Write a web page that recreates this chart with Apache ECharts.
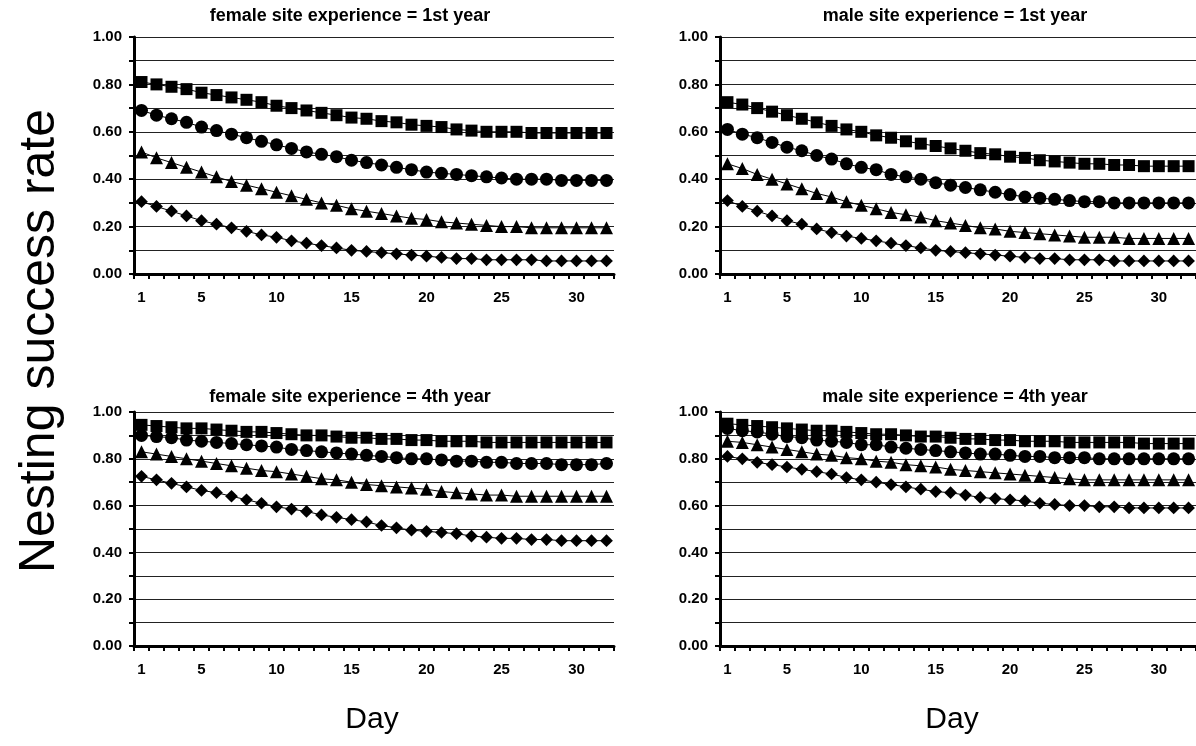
<!DOCTYPE html>
<html>
<head>
<meta charset="utf-8">
<script src="https://cdn.jsdelivr.net/npm/echarts@6/dist/echarts.min.js"></script>
<style>
  html, body { margin: 0; padding: 0; background: #fff; }
  #chart { width: 1196px; height: 746px; }
</style>
</head>
<body>
<div id="chart"></div>
<script>
// days 1..32
var days = [];
for (var d = 1; d <= 32; d++) days.push(String(d));
var shownDays = ["1", "5", "10", "15", "20", "25", "30"];

// panel titles
var titles = [
  "female site experience = 1st year",
  "male site experience = 1st year",
  "female site experience = 4th year",
  "male site experience = 4th year"
];

// female, 1st year
var f1Square = [0.81,0.80,0.79,0.78,0.765,0.755,0.745,0.735,0.725,0.71,0.70,0.69,0.68,0.67,0.66,0.655,0.645,0.64,0.63,0.625,0.62,0.61,0.605,0.60,0.60,0.60,0.595,0.595,0.595,0.595,0.595,0.595];
var f1Circle = [0.69,0.67,0.655,0.64,0.62,0.605,0.59,0.575,0.56,0.545,0.53,0.515,0.505,0.495,0.48,0.47,0.46,0.45,0.44,0.43,0.425,0.42,0.415,0.41,0.405,0.40,0.40,0.40,0.395,0.395,0.395,0.395];
var f1Triangle = [0.515,0.49,0.47,0.45,0.43,0.41,0.39,0.375,0.36,0.345,0.33,0.315,0.30,0.29,0.275,0.265,0.255,0.245,0.235,0.23,0.22,0.215,0.21,0.205,0.20,0.20,0.195,0.195,0.195,0.195,0.195,0.195];
var f1Diamond = [0.305,0.285,0.265,0.245,0.225,0.21,0.195,0.18,0.165,0.155,0.14,0.13,0.12,0.11,0.10,0.095,0.09,0.085,0.08,0.075,0.07,0.065,0.065,0.06,0.06,0.06,0.06,0.055,0.055,0.055,0.055,0.055];

// male, 1st year
var m1Square = [0.725,0.715,0.70,0.685,0.67,0.655,0.64,0.625,0.61,0.60,0.585,0.575,0.56,0.55,0.54,0.53,0.52,0.51,0.505,0.495,0.49,0.48,0.475,0.47,0.465,0.465,0.46,0.46,0.455,0.455,0.455,0.455];
var m1Circle = [0.61,0.59,0.575,0.555,0.535,0.52,0.50,0.485,0.465,0.45,0.44,0.42,0.41,0.40,0.385,0.375,0.365,0.355,0.345,0.335,0.325,0.32,0.315,0.31,0.305,0.305,0.30,0.30,0.30,0.30,0.30,0.30];
var m1Triangle = [0.465,0.445,0.42,0.40,0.38,0.36,0.34,0.325,0.305,0.29,0.275,0.26,0.25,0.24,0.225,0.215,0.205,0.195,0.19,0.18,0.175,0.17,0.165,0.16,0.155,0.155,0.155,0.15,0.15,0.15,0.15,0.15];
var m1Diamond = [0.31,0.285,0.265,0.245,0.225,0.21,0.19,0.175,0.16,0.15,0.14,0.13,0.12,0.11,0.10,0.095,0.09,0.085,0.08,0.075,0.07,0.065,0.065,0.06,0.06,0.06,0.055,0.055,0.055,0.055,0.055,0.055];

// female, 4th year
var f4Square = [0.945,0.94,0.935,0.93,0.93,0.925,0.92,0.915,0.915,0.91,0.905,0.90,0.90,0.895,0.89,0.89,0.885,0.885,0.88,0.88,0.875,0.875,0.875,0.87,0.87,0.87,0.87,0.87,0.87,0.87,0.87,0.87];
var f4Circle = [0.90,0.895,0.89,0.88,0.875,0.87,0.865,0.86,0.855,0.85,0.84,0.835,0.83,0.825,0.82,0.815,0.81,0.805,0.80,0.80,0.795,0.79,0.79,0.785,0.785,0.78,0.78,0.78,0.775,0.775,0.775,0.78];
var f4Triangle = [0.83,0.82,0.81,0.80,0.79,0.78,0.77,0.76,0.75,0.745,0.735,0.725,0.715,0.71,0.70,0.69,0.685,0.68,0.675,0.67,0.66,0.655,0.65,0.645,0.645,0.64,0.64,0.64,0.64,0.64,0.64,0.64];
var f4Diamond = [0.725,0.71,0.695,0.68,0.665,0.655,0.64,0.625,0.61,0.595,0.585,0.575,0.56,0.55,0.54,0.53,0.515,0.505,0.495,0.49,0.485,0.48,0.47,0.465,0.46,0.46,0.455,0.455,0.45,0.45,0.45,0.45];

// male, 4th year
var m4Square = [0.95,0.945,0.94,0.935,0.93,0.925,0.92,0.92,0.915,0.91,0.905,0.905,0.90,0.895,0.895,0.89,0.885,0.885,0.88,0.88,0.875,0.875,0.875,0.87,0.87,0.87,0.87,0.87,0.865,0.865,0.865,0.865];
var m4Circle = [0.93,0.92,0.915,0.905,0.895,0.89,0.88,0.875,0.87,0.86,0.86,0.85,0.845,0.84,0.835,0.83,0.825,0.82,0.82,0.815,0.81,0.81,0.805,0.805,0.805,0.80,0.80,0.80,0.80,0.80,0.80,0.80];
var m4Triangle = [0.875,0.87,0.86,0.85,0.84,0.83,0.82,0.815,0.805,0.80,0.79,0.785,0.775,0.77,0.765,0.755,0.75,0.745,0.74,0.735,0.73,0.725,0.72,0.715,0.71,0.71,0.71,0.71,0.71,0.71,0.71,0.71];
var m4Diamond = [0.81,0.80,0.785,0.775,0.765,0.755,0.745,0.735,0.72,0.71,0.70,0.69,0.68,0.67,0.66,0.655,0.645,0.635,0.63,0.625,0.62,0.61,0.605,0.60,0.60,0.595,0.595,0.59,0.59,0.59,0.59,0.59];

var panels = [
  [f1Square, f1Circle, f1Triangle, f1Diamond],
  [m1Square, m1Circle, m1Triangle, m1Diamond],
  [f4Square, f4Circle, f4Triangle, f4Diamond],
  [m4Square, m4Circle, m4Triangle, m4Diamond]
];

var FONT = "Liberation Sans, Arial, sans-serif";

// plot boxes [left, top, width, height]
var boxes = [
  [134, 37, 480, 237],
  [720, 37, 480, 237],
  [134, 412, 480, 234],
  [720, 412, 480, 234]
];
var titleX = [345, 950, 345, 950];
var titleY = [2, 2, 383, 383];

var marks = [
  { symbol: "rect", size: 12, rotate: 0 },
  { symbol: "circle", size: 13, rotate: 0 },
  { symbol: "triangle", size: 13, rotate: 0 },
  { symbol: "rect", size: 9, rotate: 45 }
];

var grid = [], xAxis = [], yAxis = [], series = [], title = [];

boxes.forEach(function (b, i) {
  grid.push({ left: b[0], top: b[1], width: b[2], height: b[3] });
  title.push({
    text: titles[i],
    left: titleX[i],
    top: titleY[i],
    textAlign: "center",
    textStyle: { fontFamily: FONT, fontSize: 18, fontWeight: "bold", color: "#000" }
  });
  xAxis.push({
    type: "category",
    gridIndex: i,
    data: days,
    boundaryGap: true,
    axisLine: { lineStyle: { color: "#000", width: 3 } },
    axisTick: { show: true, interval: 0, length: 5, lineStyle: { color: "#000", width: 2 } },
    axisLabel: {
      interval: function (idx, val) { return shownDays.indexOf(val) >= 0; },
      margin: 16,
      fontFamily: FONT, fontSize: 15, fontWeight: "bold", color: "#000"
    },
    splitLine: { show: false }
  });
  yAxis.push({
    type: "value",
    gridIndex: i,
    min: 0, max: 1, interval: 0.1,
    axisLine: { show: true, lineStyle: { color: "#000", width: 3 } },
    axisTick: { show: true, length: 5, lineStyle: { color: "#000", width: 2 } },
    axisLabel: {
      margin: 12,
      fontFamily: FONT, fontSize: 15, fontWeight: "bold", color: "#000",
      formatter: function (v) {
        var k = Math.round(v * 10);
        return k % 2 === 0 ? v.toFixed(2) : "";
      }
    },
    splitLine: { show: true, lineStyle: { color: "#222", width: 1 } }
  });
  panels[i].forEach(function (vals, j) {
    series.push({
      type: "line",
      xAxisIndex: i,
      yAxisIndex: i,
      data: vals,
      symbol: marks[j].symbol,
      symbolSize: marks[j].size,
      symbolRotate: marks[j].rotate,
      showAllSymbol: true,
      lineStyle: { color: "#000", width: 1 },
      itemStyle: { color: "#000", borderWidth: 0 },
      animation: false,
      z: 3
    });
  });
});

var myChart = echarts.init(document.getElementById("chart"));
var option = {
  backgroundColor: "#fff",
  animation: false,
  title: title,
  grid: grid,
  xAxis: xAxis,
  yAxis: yAxis,
  series: series,
  graphic: [
    {
      type: "text",
      x: 40, y: 341,
      rotation: Math.PI / 2,
      style: {
        text: "Nesting success rate",
        font: "50px " + FONT,
        fill: "#000",
        textAlign: "center",
        textVerticalAlign: "middle"
      }
    },
    {
      type: "text",
      x: 372, y: 720,
      style: { text: "Day", font: "30px " + FONT, fill: "#000", textAlign: "center", textVerticalAlign: "middle" }
    },
    {
      type: "text",
      x: 952, y: 720,
      style: { text: "Day", font: "30px " + FONT, fill: "#000", textAlign: "center", textVerticalAlign: "middle" }
    }
  ]
};
option && myChart.setOption(option);
</script>
</body>
</html>
